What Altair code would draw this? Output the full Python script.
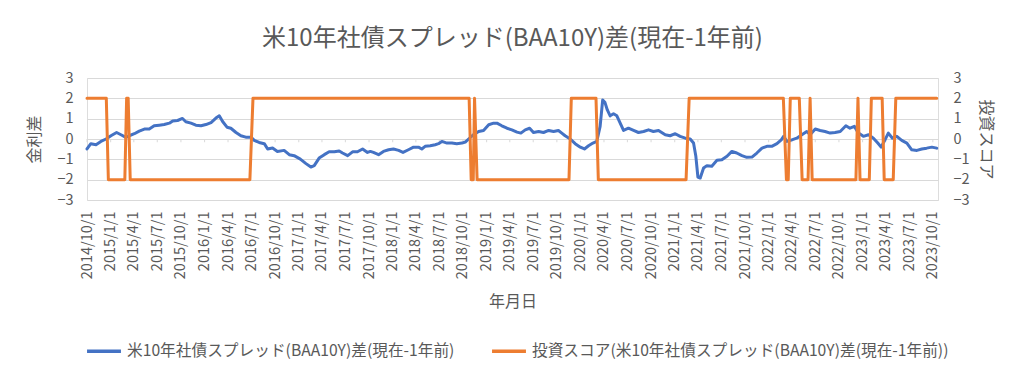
import altair as alt
import pandas as pd

FONT = "Noto Sans CJK JP"
GRAY = "#595959"
GRID = "#D9D9D9"
BLUE = "#4472C4"
ORANGE = "#ED7D31"

title_text = "米10年社債スプレッド(BAA10Y)差(現在-1年前)"
blue_name = "米10年社債スプレッド(BAA10Y)差(現在-1年前)"
orange_name = "投資スコア(米10年社債スプレッド(BAA10Y)差(現在-1年前))"

blue_dates = [
    "2014-10-01", "2014-10-16", "2014-11-05", "2014-11-24", "2014-12-14",
    "2015-01-02", "2015-01-24", "2015-02-10", "2015-03-01", "2015-03-14",
    "2015-04-03", "2015-04-22", "2015-05-12", "2015-05-31", "2015-06-19",
    "2015-07-09", "2015-07-28", "2015-08-17", "2015-08-30", "2015-09-18",
    "2015-10-07", "2015-10-20", "2015-11-09", "2015-11-28", "2015-12-18",
    "2016-01-06", "2016-01-26", "2016-02-14", "2016-02-27", "2016-03-11",
    "2016-03-28", "2016-04-12", "2016-05-02", "2016-05-21", "2016-06-09",
    "2016-06-29", "2016-07-12", "2016-07-31", "2016-08-20", "2016-09-02",
    "2016-09-21", "2016-10-10", "2016-11-05", "2016-11-25", "2016-12-14",
    "2017-01-07", "2017-01-29", "2017-02-17", "2017-03-02", "2017-03-21",
    "2017-04-10", "2017-04-29", "2017-05-19", "2017-06-07", "2017-06-20",
    "2017-07-10", "2017-07-29", "2017-08-17", "2017-09-06", "2017-09-25",
    "2017-10-06", "2017-10-18", "2017-11-07", "2017-11-26", "2017-12-16",
    "2018-01-04", "2018-01-24", "2018-02-10", "2018-03-03", "2018-03-23",
    "2018-04-11", "2018-04-24", "2018-05-07", "2018-05-27", "2018-06-15",
    "2018-06-28", "2018-07-11", "2018-07-31", "2018-08-19", "2018-09-07",
    "2018-09-27", "2018-10-10", "2018-10-23", "2018-11-11", "2018-12-01",
    "2018-12-20", "2019-01-09", "2019-01-28", "2019-02-10", "2019-03-01",
    "2019-03-21", "2019-04-09", "2019-04-29", "2019-05-14", "2019-05-31",
    "2019-06-17", "2019-07-02", "2019-07-22", "2019-08-10", "2019-08-30",
    "2019-09-18", "2019-10-07", "2019-10-20", "2019-11-02", "2019-11-22",
    "2019-12-11", "2019-12-31", "2020-01-16", "2020-02-01", "2020-02-18",
    "2020-03-04", "2020-03-17", "2020-03-27", "2020-04-05", "2020-04-14",
    "2020-04-25", "2020-05-08", "2020-05-21", "2020-06-03", "2020-06-16",
    "2020-07-05", "2020-07-25", "2020-08-13", "2020-09-02", "2020-09-21",
    "2020-10-10", "2020-10-30", "2020-11-05", "2020-11-25", "2020-12-14",
    "2021-01-03", "2021-01-22", "2021-02-11", "2021-03-02", "2021-03-15",
    "2021-03-24", "2021-04-01", "2021-04-10", "2021-04-23", "2021-05-06",
    "2021-05-25", "2021-06-14", "2021-07-03", "2021-07-23", "2021-08-11",
    "2021-08-30", "2021-09-19", "2021-10-08", "2021-10-28", "2021-11-16",
    "2021-12-06", "2021-12-25", "2022-01-13", "2022-02-02", "2022-02-19",
    "2022-02-28", "2022-03-13", "2022-04-01", "2022-04-20", "2022-05-10",
    "2022-05-29", "2022-06-11", "2022-07-01", "2022-07-20", "2022-08-08",
    "2022-08-28", "2022-09-16", "2022-10-06", "2022-10-28", "2022-11-13",
    "2022-11-30", "2022-12-16", "2023-01-04", "2023-01-24", "2023-02-12",
    "2023-03-01", "2023-03-14", "2023-03-29", "2023-04-11", "2023-04-27",
    "2023-05-14", "2023-06-02", "2023-06-22", "2023-07-11", "2023-07-31",
    "2023-08-19", "2023-09-07", "2023-09-27", "2023-10-16",
]
blue_values = [
    -0.49, -0.23, -0.28, -0.12, 0.00,
    0.16, 0.32, 0.21, 0.08, 0.16,
    0.26, 0.39, 0.49, 0.49, 0.65,
    0.68, 0.71, 0.78, 0.89, 0.91,
    1.01, 0.85, 0.78, 0.68, 0.65,
    0.71, 0.81, 1.03, 1.14, 0.86,
    0.58, 0.53, 0.32, 0.16, 0.09,
    0.09, -0.07, -0.17, -0.23, -0.49,
    -0.44, -0.61, -0.56, -0.77, -0.82,
    -0.99, -1.21, -1.38, -1.31, -0.94,
    -0.77, -0.63, -0.63, -0.59, -0.69,
    -0.82, -0.63, -0.63, -0.49, -0.66,
    -0.61, -0.66, -0.77, -0.61, -0.53,
    -0.49, -0.56, -0.66, -0.53, -0.40,
    -0.40, -0.49, -0.36, -0.33, -0.28,
    -0.23, -0.12, -0.20, -0.20, -0.23,
    -0.20, -0.15, 0.00, 0.21, 0.37,
    0.42, 0.70, 0.78, 0.78, 0.65,
    0.53, 0.45, 0.34, 0.29, 0.45,
    0.53, 0.32, 0.37, 0.32, 0.42,
    0.37, 0.42, 0.29, 0.16, 0.00,
    -0.23, -0.40, -0.49, -0.33, -0.20,
    -0.12, 0.62, 1.92, 1.79, 1.43,
    1.14, 1.24, 1.14, 0.78, 0.42,
    0.53, 0.42, 0.32, 0.37, 0.45,
    0.37, 0.42, 0.37, 0.21, 0.16,
    0.26, 0.13, 0.04, 0.00, -0.20,
    -0.85, -1.87, -1.92, -1.43, -1.31,
    -1.34, -1.05, -1.02, -0.85, -0.61,
    -0.69, -0.82, -0.90, -0.89, -0.69,
    -0.45, -0.36, -0.36, -0.23, -0.04,
    0.13, -0.12, -0.04, 0.04, 0.21,
    0.37, 0.21, 0.49, 0.42, 0.37,
    0.29, 0.32, 0.37, 0.65, 0.53,
    0.62, 0.29, 0.13, 0.21, 0.04,
    -0.20, -0.40, -0.04, 0.29, 0.04,
    0.13, -0.07, -0.20, -0.53, -0.56,
    -0.49, -0.45, -0.40, -0.45,
]

orange_dates = [
    "2014-10-01", "2014-12-15", "2014-12-23", "2015-02-25", "2015-03-04",
    "2015-03-10", "2015-03-18", "2016-06-25", "2016-07-07", "2018-10-25",
    "2018-11-02", "2018-11-10", "2018-11-15", "2018-11-25", "2019-11-17",
    "2019-11-26", "2020-03-01", "2020-03-10", "2021-02-14", "2021-02-26",
    "2022-02-27", "2022-03-11", "2022-03-18", "2022-03-26", "2022-04-30",
    "2022-05-11", "2022-06-03", "2022-06-11", "2022-06-19", "2022-12-06",
    "2022-12-14", "2022-12-22", "2023-01-27", "2023-02-04", "2023-03-18",
    "2023-03-26", "2023-04-30", "2023-05-10", "2023-10-16",
]
orange_values = [
    2, 2, -2, -2, 2,
    2, -2, -2, 2, 2,
    -2, -2, 2, -2, -2,
    2, 2, -2, -2, 2,
    2, -2, -2, 2, 2,
    -2, -2, 2, -2, -2,
    2, -2, -2, 2, 2,
    -2, -2, 2, 2,
]

tick_labels = [
    "2014/10/1", "2015/1/1", "2015/4/1", "2015/7/1", "2015/10/1",
    "2016/1/1", "2016/4/1", "2016/7/1", "2016/10/1", "2017/1/1",
    "2017/4/1", "2017/7/1", "2017/10/1", "2018/1/1", "2018/4/1",
    "2018/7/1", "2018/10/1", "2019/1/1", "2019/4/1", "2019/7/1",
    "2019/10/1", "2020/1/1", "2020/4/1", "2020/7/1", "2020/10/1",
    "2021/1/1", "2021/4/1", "2021/7/1", "2021/10/1", "2022/1/1",
    "2022/4/1", "2022/7/1", "2022/10/1", "2023/1/1", "2023/4/1",
    "2023/7/1", "2023/10/1",
]
y_ticks = [-3, -2, -1, 0, 1, 2, 3]

df_b = pd.DataFrame({"date": pd.to_datetime(blue_dates), "value": blue_values, "series": blue_name})
df_o = pd.DataFrame({"date": pd.to_datetime(orange_dates), "value": orange_values, "series": orange_name})
df_t = pd.DataFrame({"date": pd.to_datetime(tick_labels, format="%Y/%m/%d")})

tick_vals = []
for s in tick_labels:
    yy, mm, dd = [int(p) for p in s.split("/")]
    tick_vals.append(alt.DateTime(year=yy, month=mm, date=dd))

xscale = alt.Scale(domain=[alt.DateTime(year=2014, month=10, date=1),
                           alt.DateTime(year=2023, month=10, date=21)])
x_axis = alt.Axis(
    values=tick_vals, format="%Y/%-m/%-d", labelAngle=270, title="年月日",
    grid=False, ticks=False, domain=False, labelOverlap=False, labelFlush=False,
    labelBound=False, labelFont=FONT, labelFontSize=14.5, labelColor=GRAY,
    labelPadding=11, titleFont=FONT, titleFontSize=16, titleColor=GRAY,
    titleFontWeight="normal", titlePadding=15,
)
x_enc = alt.X("date:T", scale=xscale, axis=x_axis)

yscale = alt.Scale(domain=[-3, 3], nice=False, zero=False)
y_left_axis = alt.Axis(
    values=y_ticks, title="金利差", orient="left", grid=True, gridColor=GRID,
    gridWidth=1, ticks=False, domain=False, labelOverlap=False, labelFont=FONT,
    labelFontSize=14.5, labelColor=GRAY, labelPadding=14, titleFont=FONT,
    titleFontSize=16, titleColor=GRAY, titleFontWeight="normal", titlePadding=14,
)
y_right_axis = alt.Axis(
    values=y_ticks, title="投資スコア", orient="right", grid=False,
    ticks=False, domain=False, labelOverlap=False, labelFont=FONT,
    labelFontSize=14.5, labelColor=GRAY, labelPadding=15, titleFont=FONT,
    titleFontSize=16, titleColor=GRAY, titleFontWeight="normal", titlePadding=8,
)

color = alt.Color(
    "series:N",
    scale=alt.Scale(domain=[blue_name, orange_name], range=[BLUE, ORANGE]),
    legend=alt.Legend(
        orient="none", legendX=-2, legendY=254, direction="horizontal",
        title=None, symbolType="stroke", symbolSize=1150, symbolStrokeWidth=3.5,
        labelFont=FONT, labelFontSize=15.7, labelColor=GRAY, labelLimit=2000,
        columnPadding=30, labelOffset=4,
    ),
)

ticks0 = alt.Chart(df_t).mark_rule(color=GRID, strokeWidth=1).encode(
    x=x_enc, y=alt.datum(0, scale=yscale, axis=None), y2=alt.datum(-0.16)
)
blue = alt.Chart(df_b).mark_line(strokeWidth=3, strokeJoin="round", strokeCap="round").encode(
    x=x_enc, y=alt.Y("value:Q", scale=yscale, axis=y_left_axis), color=color
)
orange = alt.Chart(df_o).mark_line(strokeWidth=3, strokeJoin="round", strokeCap="round").encode(
    x=x_enc, y=alt.Y("value:Q", scale=yscale, axis=y_right_axis), color=color
)

chart = alt.layer(ticks0, blue, orange).resolve_scale(y="independent").properties(
    width=851, height=122,
    title=alt.TitleParams(
        text=title_text, font=FONT, fontSize=24, color=GRAY, fontWeight="normal",
        anchor="middle", baseline="bottom", offset=-5,
    ),
    autosize=alt.AutoSizeParams(type="none"),
    padding={"left": 79, "top": 70, "right": 78, "bottom": 170},
).configure_view(stroke=None).configure_axis(
    labelOverlap=False, labelSeparation=0
).configure(background="white")

chart.save("out.html", embed_options={"renderer": "svg", "actions": False})
